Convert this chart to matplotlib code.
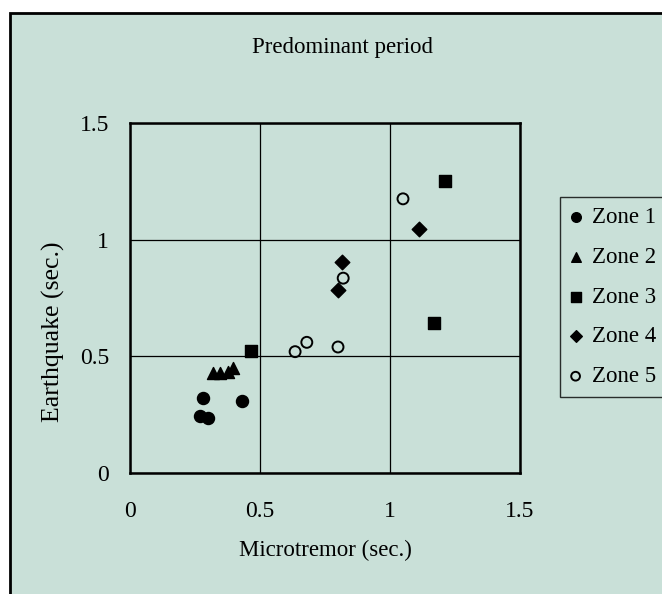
import matplotlib
matplotlib.use("Agg")
import matplotlib.pyplot as plt
from matplotlib.patches import Rectangle

plt.rcParams['font.family'] = ['Liberation Serif', 'DejaVu Serif']

BG = '#c9e0d8'

# predominant period, microtremor (x) vs earthquake (y), seconds
zone1_x = [0.28, 0.43, 0.27, 0.30]
zone1_y = [0.32, 0.31, 0.245, 0.235]
zone2_x = [0.32, 0.345, 0.375, 0.395]
zone2_y = [0.43, 0.43, 0.435, 0.45]
zone3_x = [1.21, 1.17, 0.465]
zone3_y = [1.25, 0.645, 0.525]
zone4_x = [1.11, 0.815, 0.80]
zone4_y = [1.045, 0.905, 0.785]
zone5_x = [1.05, 0.82, 0.68, 0.635, 0.80]
zone5_y = [1.175, 0.835, 0.56, 0.52, 0.54]

labels = ['Zone 1', 'Zone 2', 'Zone 3', 'Zone 4', 'Zone 5']
ticks = [0, 0.5, 1, 1.5]
tick_labels = ['0', '0.5', '1', '1.5']

fig = plt.figure(figsize=(6.62, 5.94), dpi=100)
fig.patch.set_facecolor('white')
# outer chart frame (chart is cropped on the right and bottom)
fig.patches.append(Rectangle((10/662, -0.1), 1.2, 1 - 13/594 + 0.1,
                             transform=fig.transFigure, facecolor=BG,
                             edgecolor='black', lw=2, zorder=-1))

ax = fig.add_axes([130/662, 1 - 473/594, 390/662, 350/594])
ax.set_facecolor(BG)

ax.scatter(zone1_x, zone1_y, marker='o', s=75, c='black', label=labels[0], zorder=3)
ax.scatter(zone2_x, zone2_y, marker='^', s=75, c='black', label=labels[1], zorder=3)
ax.scatter(zone3_x, zone3_y, marker='s', s=72, c='black', label=labels[2], zorder=3)
ax.scatter(zone4_x, zone4_y, marker='D', s=55, c='black', label=labels[3], zorder=3)
ax.scatter(zone5_x, zone5_y, marker='o', s=62, facecolors='none',
           edgecolors='black', linewidths=1.4, label=labels[4], zorder=3)

ax.set_xlim(0, 1.5)
ax.set_ylim(0, 1.5)
ax.set_xticks(ticks)
ax.set_xticklabels(tick_labels)
ax.set_yticks(ticks)
ax.set_yticklabels(tick_labels)
ax.tick_params(length=0, labelsize=17)
ax.tick_params(axis='x', pad=20.5)
ax.tick_params(axis='y', pad=15)
ax.grid(True, color='black', lw=0.9)
for sp in ax.spines.values():
    sp.set_linewidth(1.8)

ax.set_xlabel('Microtremor (sec.)', fontsize=16.5)
ax.xaxis.set_label_coords(0.5, -0.192)
ax.set_ylabel('Earthquake (sec.)', fontsize=18.5)
ax.yaxis.set_label_coords(-0.166, 0.404)
fig.text(343/662, 1 - 53/594, 'Predominant period', ha='center', va='baseline',
         fontsize=16.5)

leg = fig.legend(loc='upper left', bbox_to_anchor=(560/662, 1 - 197/594),
                 fontsize=16.5, frameon=True, fancybox=False, handletextpad=0.45,
                 handlelength=0.5, borderpad=0.43, labelspacing=0.82,
                 markerscale=0.8, borderaxespad=0)
leg.get_frame().set_facecolor(BG)
leg.get_frame().set_edgecolor('black')
leg.get_frame().set_linewidth(1)

fig.savefig('out.png', dpi=100)
